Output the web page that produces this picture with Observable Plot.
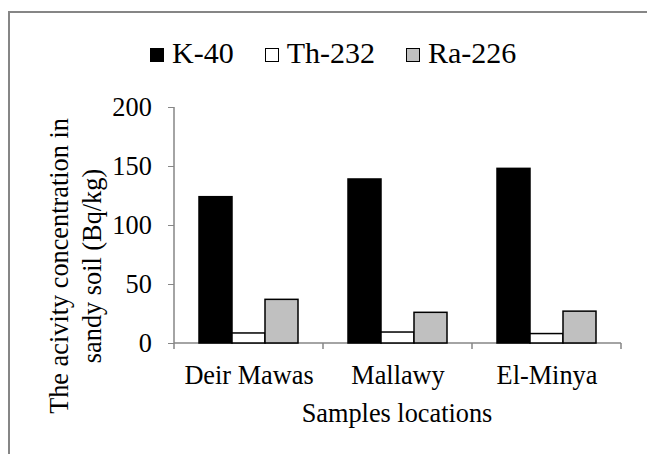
<!DOCTYPE html>
<html>
<head>
<meta charset="utf-8">
<script src="https://cdn.jsdelivr.net/npm/d3@7"></script>
<script src="https://cdn.jsdelivr.net/npm/@observablehq/plot@0.6"></script>
<style>
  html, body { margin: 0; padding: 0; background: #fff; overflow: hidden; }
  #wrap { position: relative; width: 647px; height: 454px; overflow: hidden; font-family: "Liberation Serif", "Times New Roman", serif; color: #000; }
  #border { position: absolute; left: 8px; top: 11px; width: 700px; height: 500px; border-left: 2px solid #868686; border-top: 2px solid #868686; box-sizing: border-box; }
  #chart { position: absolute; left: 0; top: 0; }
  #legend { position: absolute; left: 150px; top: 38px; display: flex; align-items: center; font-size: 30px; line-height: 30px; white-space: nowrap; font-family: "Liberation Serif", serif; }
  #legend .item { display: flex; align-items: center; margin-right: 31px; }
  #legend .sw { width: 14px; height: 14px; box-sizing: border-box; border: 1.5px solid #000; margin-right: 8px; position: relative; top: 2px; }
  #ytitle { position: absolute; left: 76px; top: 266px; transform: translate(-50%, -50%) rotate(-90deg); font-size: 26.3px; line-height: 32.5px; text-align: center; white-space: nowrap; }
  #xtitle { position: absolute; left: 397px; top: 401px; transform: translateX(-50%); font-size: 26.3px; line-height: 26.3px; white-space: nowrap; }
</style>
</head>
<body>
<div id="wrap">
  <div id="border"></div>
  <div id="chart"></div>
  <div id="legend"></div>
  <div id="ytitle"></div>
  <div id="xtitle"></div>
</div>
<script>
// ---- data ----
const locations = ["Deir Mawas", "Mallawy", "El-Minya"];
const series = ["K-40", "Th-232", "Ra-226"];
const k40 = [124, 139, 148];
const th232 = [8.5, 9.3, 8];
const ra226 = [37, 26, 27];
const yTicks = [0, 50, 100, 150, 200];
const yTitleLines = ["The acivity concentration in", "sandy soil (Bq/kg)"];
const xTitle = "Samples locations";

// styling
const seriesFill = ["#000000", "#ffffff", "#c0c0c0"];
const axisGray = "#868686";

const valuesBySeries = [k40, th232, ra226];
const data = [];
locations.forEach((loc, i) => {
  series.forEach((s, j) => data.push({location: loc, series: s, value: valuesBySeries[j][i]}));
});

const chart = Plot.plot({
  width: 647,
  height: 454,
  marginTop: 107,
  marginBottom: 111,
  marginLeft: 173,
  marginRight: 25,
  style: {fontFamily: "'Liberation Serif', 'Times New Roman', serif", fontSize: "26.3px", color: "#000", background: "transparent"},
  fx: {domain: locations, padding: 0, label: null},
  x: {domain: series, paddingInner: 0, paddingOuter: 0.745, axis: null},
  y: {domain: [0, 200], label: null},
  color: {domain: series, range: seriesFill},
  marks: [
    Plot.barY(data, {fx: "location", x: "series", y: "value", fill: "series", stroke: "#000", strokeWidth: 1.5}),
    Plot.axisY(yTicks, {tickSize: 6, tickPadding: 16.7, stroke: axisGray, fill: "#000", label: null, fontSize: 26.3}),
    Plot.axisFx({anchor: "bottom", tickSize: 0, tickPadding: 21.6, label: null, fontSize: 26.3, fill: "#000"})
  ]
});
document.getElementById("chart").appendChild(chart);

// axis lines drawn from the plot's own scales
const fxS = chart.scale("fx");
const yS = chart.scale("y");
const fxStart = loc => fxS.apply ? fxS.apply(loc) : fxS.range[0] + locations.indexOf(loc) * fxS.step;
const bw = fxS.bandwidth;
const y0 = yS.apply ? yS.apply(0) : yS.range[0];
const yTop = yS.apply ? yS.apply(200) : yS.range[1];
const svg = d3.select(chart);
const g = svg.append("g").attr("stroke", axisGray).attr("stroke-width", 1.5).attr("fill", "none");
const left = fxStart(locations[0]);
const right = fxStart(locations[locations.length - 1]) + bw;
g.append("line").attr("x1", left).attr("x2", right).attr("y1", y0).attr("y2", y0);
g.append("line").attr("x1", left).attr("x2", left).attr("y1", yTop).attr("y2", y0 + 6);
locations.forEach(loc => {
  const x = fxStart(loc) + bw;
  g.append("line").attr("x1", x).attr("x2", x).attr("y1", y0).attr("y2", y0 + 6);
});
// keep bars on top of the axis line
svg.selectAll("g[aria-label='bar']").raise();

// legend
const legend = d3.select("#legend");
series.forEach((s, j) => {
  const it = legend.append("div").attr("class", "item");
  it.append("div").attr("class", "sw").style("background", seriesFill[j]);
  it.append("span").text(s);
});
// titles
d3.select("#ytitle").html(yTitleLines.join("<br>"));
d3.select("#xtitle").text(xTitle);
</script>
</body>
</html>
